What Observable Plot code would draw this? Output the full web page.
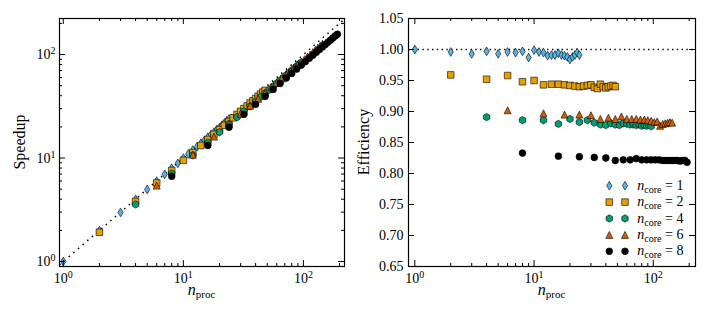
<!DOCTYPE html>
<html><head><meta charset="utf-8">
<script src="https://cdn.jsdelivr.net/npm/d3@7"></script>
<script src="https://cdn.jsdelivr.net/npm/@observablehq/plot@0.6"></script>
<style>
html,body{margin:0;padding:0;background:#fff;}
#chart{position:relative;width:709px;height:315px;overflow:hidden;background:#fff;}
#chart svg{position:absolute;top:0;}
</style></head><body><div id="chart"></div>
<script>
// ---- data ----
const nodes = [1,2,3,4,5,6,7,8,9,10,11,12,13,14,15,16,17,18,19,20,21,22,23,24];
const cores = [1,2,4,6,8];
const eff1 = [1.000,0.996,0.993,0.997,0.993,0.996,0.995,0.997,0.987,0.999,0.996,0.995,0.990,0.991,0.991,0.994,0.991,0.990,0.988,0.984,0.988,0.991,0.995,0.991];
const eff2 = [0.959,0.952,0.958,0.948,0.950,0.943,0.944,0.944,0.943,0.942,0.941,0.940,0.941,0.942,0.943,0.939,0.937,0.944,0.940,0.938,0.940,0.941,0.942,0.940];
const eff4 = [0.891,0.886,0.886,0.880,0.888,0.883,0.886,0.882,0.879,0.878,0.881,0.879,0.878,0.881,0.880,0.879,0.879,0.878,0.879,0.877,0.878,0.877,0.878,0.876];
const eff6 = [0.902,0.897,0.895,0.895,0.894,0.888,0.890,0.888,0.892,0.888,0.888,0.888,0.887,0.887,0.886,0.885,0.883,0.884,0.877,0.880,0.881,0.882,0.883,0.882];
const eff8 = [0.833,0.828,0.827,0.826,0.825,0.821,0.822,0.822,0.824,0.822,0.822,0.822,0.822,0.822,0.821,0.821,0.821,0.821,0.821,0.821,0.820,0.821,0.821,0.818];
const effs = [eff1, eff2, eff4, eff6, eff8];
const colors = ["#56B4E9","#E69F00","#009E73","#D55E00","#000000"];
const legendLabels = ["1","2","4","6","8"];
const logMajor = [1,10,100];
const logMinor = [2,3,4,5,6,7,8,9,20,30,40,50,60,70,80,90,200];
const effTicks = [0.65,0.70,0.75,0.80,0.85,0.90,0.95,1.00,1.05];
const idealLine = [0.5, 500];
const idealEff = [1];

// ---- custom marker symbols (size = r*r*PI) ----
const rad = s => Math.sqrt(s / Math.PI);
const thinDiamond = {draw(c, s){const r=rad(s); c.moveTo(0,-r); c.lineTo(0.6*r,0); c.lineTo(0,r); c.lineTo(-0.6*r,0); c.closePath();}};
const squareSym = {draw(c, s){const r=rad(s); c.moveTo(-r,-r); c.lineTo(r,-r); c.lineTo(r,r); c.lineTo(-r,r); c.closePath();}};
const hexSym = {draw(c, s){const r=rad(s); for(let i=0;i<6;i++){const a=(-90+60*i)*Math.PI/180; const px=r*Math.cos(a), py=r*Math.sin(a); if(i===0) c.moveTo(px,py); else c.lineTo(px,py);} c.closePath();}};
const triSym = {draw(c, s){const r=rad(s); c.moveTo(0,-r); c.lineTo(r,r); c.lineTo(-r,r); c.closePath();}};
const circSym = {draw(c, s){const r=rad(s); c.moveTo(r,0); c.arc(0,0,r,0,2*Math.PI); c.closePath();}};
const symbols = [thinDiamond, squareSym, hexSym, triSym, circSym];
const radii = [4.4, 3.3, 3.7, 3.5, 3.4];

const series = cores.map((core, k) => nodes.map((n, i) => ({
  core, nproc: n * core, eff: effs[k][i], speedup: n * core * effs[k][i]
})));

const FONT = "Liberation Serif";
const baseStyle = {fontFamily: FONT, fontSize: "14px", color: "black", background: "white", overflow: "visible"};

function tickMarks(xMaj, xMin, yMaj, yMin, FW, FH) {
  const st = {stroke: "black", strokeWidth: 1};
  const m = [
    Plot.ruleX(xMaj, {x: d => d, insetTop: FH - 6, ...st}),
    Plot.ruleX(xMaj, {x: d => d, insetBottom: FH - 6, ...st}),
    Plot.ruleX(xMin, {x: d => d, insetTop: FH - 3, ...st}),
    Plot.ruleX(xMin, {x: d => d, insetBottom: FH - 3, ...st}),
    Plot.ruleY(yMaj, {y: d => d, insetRight: FW - 6, ...st}),
    Plot.ruleY(yMaj, {y: d => d, insetLeft: FW - 6, ...st})
  ];
  if (yMin) {
    m.push(Plot.ruleY(yMin, {y: d => d, insetRight: FW - 3, ...st}));
    m.push(Plot.ruleY(yMin, {y: d => d, insetLeft: FW - 3, ...st}));
  }
  return m;
}

function dotMarks(yKey) {
  return series.map((rows, k) => Plot.dot(rows, {
    x: "nproc", y: yKey, symbol: symbols[k], r: radii[k],
    fill: colors[k], stroke: "black", strokeWidth: 0.6
  }));
}

const powFmt = d => "10^" + Math.round(Math.log10(d));

// ---- left panel: speedup ----
const LW = 355, LH = 315, Lm = {l: 59, r: 11, t: 18, b: 49};
const left = Plot.plot({
  width: LW, height: LH,
  marginLeft: Lm.l, marginRight: Lm.r, marginTop: Lm.t, marginBottom: Lm.b,
  style: baseStyle,
  x: {type: "log", domain: [0.93, 220]},
  y: {type: "log", domain: [0.895, 223]},
  marks: [
    Plot.line(idealLine, {x: d => d, y: d => d, stroke: "black", strokeWidth: 1.5, strokeLinecap: "butt", strokeDasharray: "1.5,4.6", clip: true}),
    ...dotMarks("speedup"),
    ...tickMarks(logMajor, logMinor, logMajor, logMinor, LW - Lm.l - Lm.r, LH - Lm.t - Lm.b),
    Plot.frame({stroke: "black", strokeWidth: 1.2}),
    Plot.axisX({ticks: logMajor, tickSize: 0, tickPadding: 7, tickFormat: powFmt, label: null}),
    Plot.axisY({ticks: logMajor, tickSize: 0, tickPadding: 4, tickFormat: powFmt, label: null})
  ]
});

// ---- right panel: efficiency ----
const RW = 355, RH = 315, Rm = {l: 54, r: 14, t: 18, b: 49};
const right = Plot.plot({
  width: RW, height: RH,
  marginLeft: Rm.l, marginRight: Rm.r, marginTop: Rm.t, marginBottom: Rm.b,
  style: baseStyle,
  x: {type: "log", domain: [0.885, 226]},
  y: {domain: [0.65, 1.05]},
  marks: [
    Plot.ruleY(idealEff, {y: d => d, stroke: "black", strokeWidth: 1.4, strokeLinecap: "butt", strokeDasharray: "1.4,3.4"}),
    ...dotMarks("eff"),
    ...tickMarks(logMajor, logMinor, effTicks, null, RW - Rm.l - Rm.r, RH - Rm.t - Rm.b),
    Plot.frame({stroke: "black", strokeWidth: 1.2}),
    Plot.axisX({ticks: logMajor, tickSize: 0, tickPadding: 7, tickFormat: powFmt, label: null}),
    Plot.axisY({ticks: effTicks, tickSize: 0, tickPadding: 5, tickFormat: d3.format(".2f"), label: null})
  ]
});

// superscripts in tick labels
function superscripts(svg) {
  d3.select(svg).selectAll("text").each(function() {
    const t = d3.select(this);
    const s = t.text();
    if (/^10\^\d+$/.test(s)) {
      const e = s.split("^")[1];
      t.text("10");
      t.append("tspan").attr("font-size", "10px").attr("dy", "-5px").text(e);
    }
  });
}
superscripts(left); superscripts(right);

function subLabel(g, x, y, main, sub, size) {
  const t = g.append("text").attr("x", x).attr("y", y).attr("text-anchor", "middle")
    .attr("font-family", FONT).attr("font-size", size + "px").attr("fill", "black");
  t.append("tspan").attr("font-style", "italic").text(main);
  t.append("tspan").attr("font-size", Math.round(size * 0.7) + "px").attr("dy", "3px").text(sub);
  return t;
}

// axis labels
const ls = d3.select(left), rs = d3.select(right);
ls.append("text").attr("transform", `translate(25,${(Lm.t + LH - Lm.b) / 2}) rotate(-90)`)
  .attr("text-anchor", "middle").attr("font-family", FONT).attr("font-size", "16px").text("Speedup");
subLabel(ls, (Lm.l + LW - Lm.r) / 2, 295, "n", "proc", 16);
rs.append("text").attr("transform", `translate(15,${(Rm.t + RH - Rm.b) / 2}) rotate(-90)`)
  .attr("text-anchor", "middle").attr("font-family", FONT).attr("font-size", "16px").text("Efficiency");
subLabel(rs, (Rm.l + RW - Rm.r) / 2, 295, "n", "proc", 16);

// legend
const lg = rs.append("g").attr("text-anchor", "start");
legendLabels.forEach((lab, k) => {
  const y = 185.7 + k * 16.4;
  const path = d3.symbol(symbols[k], radii[k] * radii[k] * Math.PI)();
  [255.3, 271].forEach(x => lg.append("path").attr("d", path).attr("transform", `translate(${x},${y})`)
    .attr("fill", colors[k]).attr("stroke", "black").attr("stroke-width", 0.6));
  const t = lg.append("text").attr("x", 283.3).attr("y", y + 4).attr("text-anchor", "start")
    .attr("font-family", FONT).attr("font-size", "14px");
  t.append("tspan").attr("font-style", "italic").text("n");
  t.append("tspan").attr("font-size", "10px").attr("dy", "3px").text("core");
  t.append("tspan").attr("dy", "-3px").text(" = " + lab);
});

const chart = document.getElementById("chart");
left.style.left = "0px";
right.style.left = "354px";
chart.appendChild(left);
chart.appendChild(right);
</script></body></html>
